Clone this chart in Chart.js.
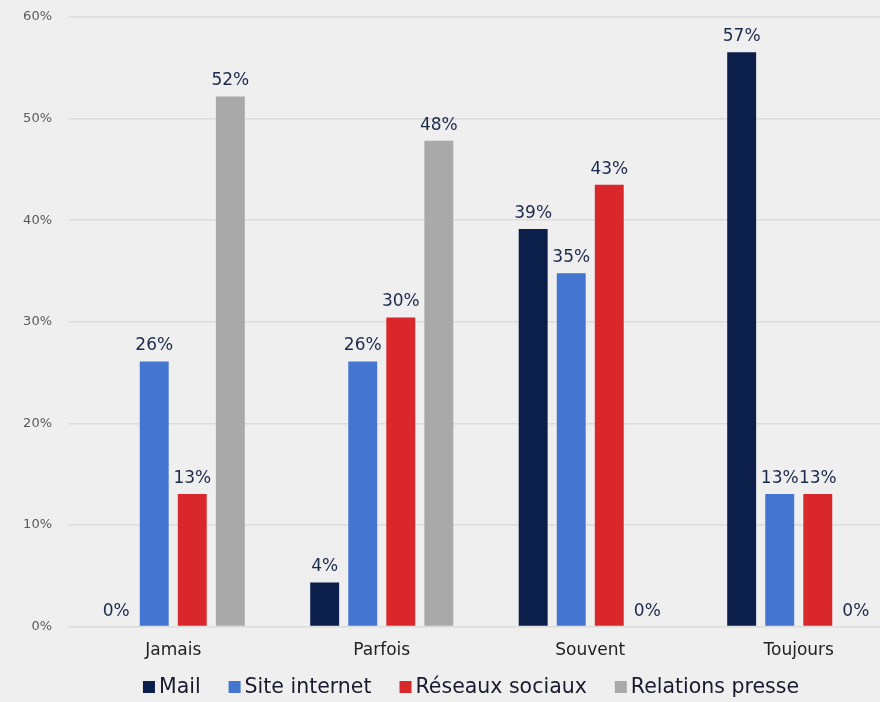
<!DOCTYPE html>
<html>
<head>
<meta charset="utf-8">
<script src="https://cdn.jsdelivr.net/npm/chart.js@4"></script>
<style>
    html, body { margin: 0; padding: 0; background: #efefef; overflow: hidden; }
    #wrap { width: 942px; height: 702px; position: relative; }
</style>
</head>
<body>
<div id="wrap"><canvas id="freqChart"></canvas></div>
<script>
    /* ========================================================
       DATA
    ======================================================== */
    const categories   = ['Jamais', 'Parfois', 'Souvent', 'Toujours'];
    const seriesNames  = ['Mail', 'Site internet', 'Réseaux sociaux', 'Relations presse'];
    const mailValues     = [0, 4.35, 39.13, 56.52];
    const siteValues     = [26.09, 26.09, 34.78, 13.04];
    const reseauxValues  = [13.04, 30.43, 43.48, 13.04];
    const relationValues = [52.17, 47.83, 0, 0];
    const yTicks = [0, 10, 20, 30, 40, 50, 60];

    const colors = ['#0c1f4a', '#4475d0', '#d9272b', '#a9a9a9'];
    const FONT = "'DejaVu Sans', Verdana, sans-serif";

    /* ========================================================
       VALUE LABELS
    ======================================================== */
    const valueLabels = {
        id: 'valueLabels',
        afterDatasetsDraw(chart) {
            const ctx = chart.ctx;
            ctx.save();
            ctx.font = '17px ' + FONT;
            ctx.fillStyle = '#1c2a4a';
            ctx.textAlign = 'center';
            ctx.textBaseline = 'bottom';
            chart.data.datasets.forEach((ds, i) => {
                chart.getDatasetMeta(i).data.forEach((bar, j) => {
                    ctx.fillText(Math.round(ds.data[j]) + '%', bar.x, bar.y - 7);
                });
            });
            ctx.restore();
        }
    };

    /* ========================================================
       LEGEND (drawn by hand, tight box/text gap)
    ======================================================== */
    const bottomLegend = {
        id: 'bottomLegend',
        afterDraw(chart) {
            const ctx = chart.ctx;
            const box = 12, gapText = 4, gapItem = 28;
            ctx.save();
            ctx.font = '20.5px ' + FONT;
            ctx.textBaseline = 'middle';
            const widths = seriesNames.map(n => box + gapText + ctx.measureText(n).width);
            const total = widths.reduce((a, b) => a + b, 0) + gapItem * (seriesNames.length - 1);
            let x = chart.width / 2 - total / 2;
            const y = 687;
            seriesNames.forEach((name, i) => {
                ctx.fillStyle = colors[i];
                ctx.fillRect(x, y - box / 2, box, box);
                ctx.fillStyle = '#1a1a2e';
                ctx.fillText(name, x + box + gapText, y + 1);
                x += widths[i] + gapItem;
            });
            ctx.restore();
        }
    };

    const ctx = document.getElementById('freqChart').getContext('2d');
    new Chart(ctx, {
        type: 'bar',
        data: {
            labels: categories,
            datasets: [mailValues, siteValues, reseauxValues, relationValues].map((vals, i) => ({
                label: seriesNames[i],
                data: vals,
                backgroundColor: colors[i],
                categoryPercentage: 0.73,
                barPercentage: 0.76
            }))
        },
        options: {
            responsive: true,
            maintainAspectRatio: false,
            animation: false,
            layout: { padding: { left: 0, right: 39, top: 17, bottom: 35 } },
            scales: {
                x: {
                    grid: { display: false },
                    border: { display: false },
                    ticks: { color: '#222', font: { family: FONT, size: 17 }, padding: 6 }
                },
                y: {
                    min: 0,
                    max: 60,
                    afterBuildTicks(scale) { scale.ticks = yTicks.map(v => ({ value: v })); },
                    afterFit(scale) {
                        scale.width = 69;
                        scale.paddingTop = 0;
                        scale.paddingBottom = 0;
                    },
                    grid: { color: '#dcdcdc', lineWidth: 1.5, drawTicks: false },
                    border: { display: false },
                    ticks: {
                        color: '#595959',
                        padding: 17,
                        font: { family: FONT, size: 13 },
                        callback: v => v + '%'
                    }
                }
            },
            plugins: {
                legend: { display: false },
                tooltip: { enabled: false }
            }
        },
        plugins: [valueLabels, bottomLegend]
    });
</script>
</body>
</html>
